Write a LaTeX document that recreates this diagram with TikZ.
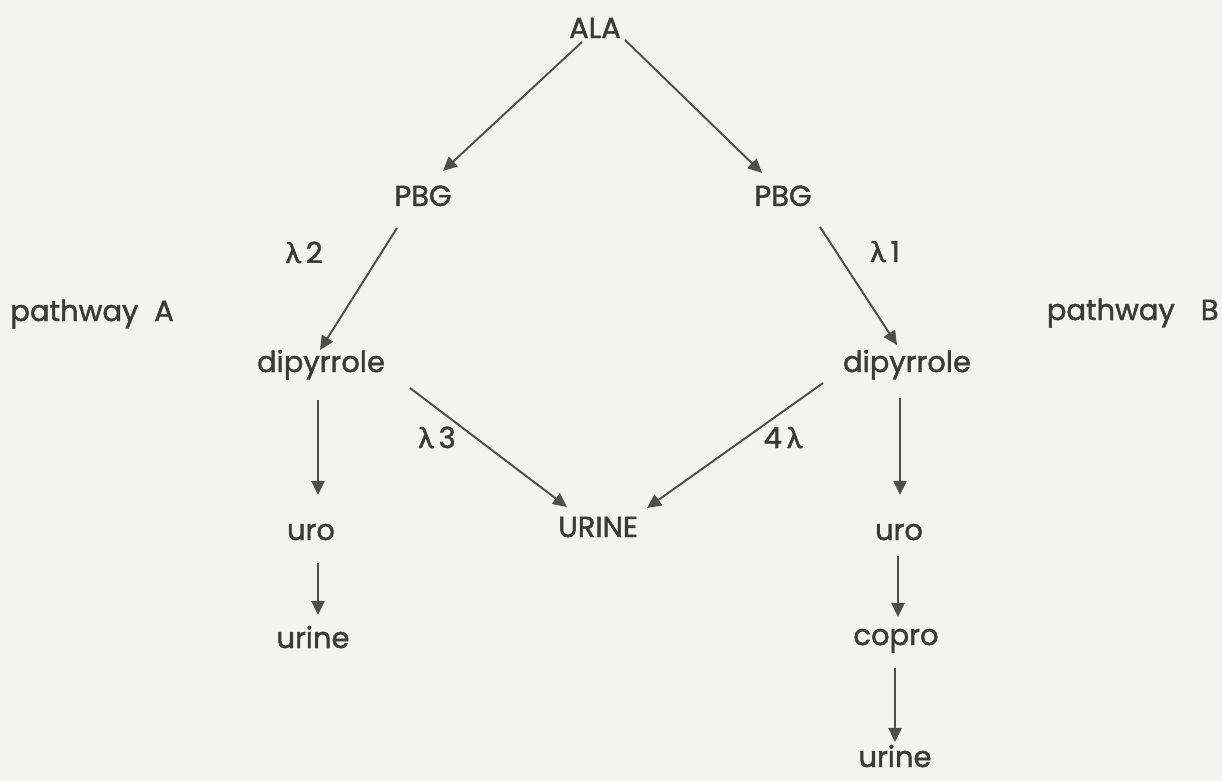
\documentclass[tikz,border=0pt]{standalone}
\usepackage{fontspec}
\setmainfont{Poppins}[FakeBold=1.5]
\newfontfamily\lamfont{Lato}[FakeBold=1.5]
\usetikzlibrary{arrows.meta}
\definecolor{ink}{RGB}{58,58,58}
\definecolor{paper}{RGB}{243,243,241}
\definecolor{wire}{RGB}{78,78,78}

\begin{document}
\begin{tikzpicture}[x=0.02cm, y=-0.02cm,
		lbl/.style={anchor=base, inner sep=0pt, text=ink, font=\fontsize{16.5}{19}\selectfont},
		flow/.style={-{Triangle[length=8pt, width=7.5pt]}, line width=1.1pt, draw=wire}]
		\fill[paper] (0,0) rectangle (1222,781);
		\useasboundingbox (0,0) rectangle (1222,781);
		\node[lbl] (ala) at (595,38) {ALA};
		\node[lbl] (pbgl) at (423,206) {PBG};
		\node[lbl] (pbgr) at (783,206) {PBG};
		\node[lbl] (lamtwo) at (304,263) {{\lamfont λ}\,2};
		\node[lbl] (lamone) at (885,262) {{\lamfont λ}\,1};
		\node[lbl, anchor=base west] (patha) at (10,321) {pathway\hspace{0.55em}A};
		\node[lbl, anchor=base east] (pathb) at (1219,320) {pathway\hspace{0.9em}B};
		\node[lbl] (dipl) at (321,372) {dipyrrole};
		\node[lbl] (dipr) at (907,372) {dipyrrole};
		\node[lbl] (lamthree) at (437,448) {{\lamfont λ}\,3};
		\node[lbl] (lamfour) at (783,448) {4\,{\lamfont λ}};
		\node[lbl] (urine) at (598,537) {URINE};
		\node[lbl] (urol) at (311,540) {uro};
		\node[lbl] (uror) at (899,540) {uro};
		\node[lbl] (urinel) at (313,648) {urine};
		\node[lbl] (copro) at (896,645) {copro};
		\node[lbl] (uriner) at (895,767) {urine};
		\draw[flow] ([shift={(-13,4)}]ala.base) -- ([shift={(20,-35)}]pbgl.base);
		\draw[flow] ([shift={(30,2)}]ala.base) -- ([shift={(-21,-33)}]pbgr.base);
		\draw[flow] ([shift={(-26,22)}]pbgl.base) -- ([shift={(-1,-22)}]dipl.base);
		\draw[flow] ([shift={(37,21)}]pbgr.base) -- ([shift={(-10,-27)}]dipr.base);
		\draw[flow] ([shift={(89,16)}]dipl.base) -- ([shift={(-31,-30)}]urine.base);
		\draw[flow] ([shift={(-84,11)}]dipr.base) -- ([shift={(49,-29)}]urine.base);
		\draw[flow] ([shift={(-3,28)}]dipl.base) -- ([shift={(7,-45)}]urol.base);
		\draw[flow] ([shift={(7,23)}]urol.base) -- ([shift={(5,-33)}]urinel.base);
		\draw[flow] ([shift={(-7,26)}]dipr.base) -- ([shift={(1,-45)}]uror.base);
		\draw[flow] ([shift={(-1,16)}]uror.base) -- ([shift={(2,-28)}]copro.base);
		\draw[flow] ([shift={(-1,23)}]copro.base) -- ([shift={(0,-25)}]uriner.base);
	\end{tikzpicture}
\end{document}
